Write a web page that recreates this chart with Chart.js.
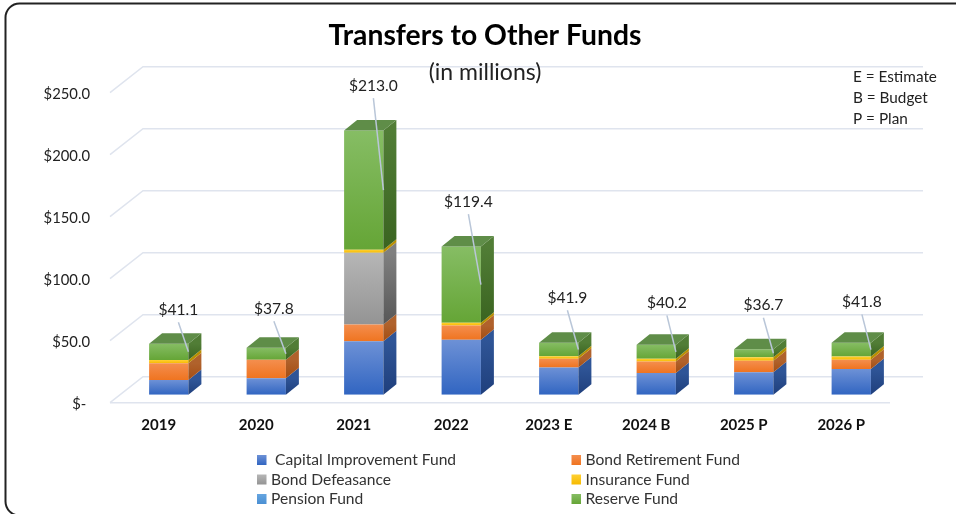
<!DOCTYPE html>
<html>
<head>
<meta charset="utf-8">
<title>Transfers to Other Funds</title>
<script src="https://cdn.jsdelivr.net/npm/chart.js@4/dist/chart.umd.min.js"></script>
<style>
  html, body { margin: 0; padding: 0; background: #fff; overflow: hidden; }
  #wrap { width: 956px; height: 514px; }
</style>
</head>
<body>
<div id="wrap"><canvas id="grafico" width="956" height="514"></canvas></div>
<script>
// Data, in millions
const categories = ["2019", "2020", "2021", "2022", "2023 E", "2024 B", "2025 P", "2026 P"];
const capitalImprovement = [11.8, 13.3, 43.0, 44.3, 22.0, 17.4, 18.2, 20.7];
const bondRetirement = [13.5, 14.8, 13.7, 11.5, 7.0, 9.4, 9.1, 7.5];
const bondDefeasance = [0, 0, 57.7, 0, 0, 0, 0, 0];
const insurance = [2.7, 0, 2.4, 2.2, 2.1, 2.1, 2.9, 2.7];
const pension = [0, 0, 0, 0, 0, 0, 0, 0];
const reserve = [13.1, 9.7, 96.2, 61.4, 10.8, 11.3, 6.5, 10.9];
const totals = [41.1, 37.8, 213.0, 119.4, 41.9, 40.2, 36.7, 41.8];
const yTickLabels = ["$- ", "$50.0", "$100.0", "$150.0", "$200.0", "$250.0"];
const notes = ["E = Estimate", "B = Budget", "P = Plan"];

const FONT = "Lato, Carlito, Calibri, sans-serif";

// front gradient (top, bottom), side gradient (top, bottom)
const fundStyles = [
    { label: "Capital Improvement Fund", values: capitalImprovement, front: ["#6d91d6", "#3165c1"], side: ["#2f5597", "#1f3f7c"], legendText: " Capital Improvement Fund" },
    { label: "Bond Retirement Fund", values: bondRetirement, front: ["#f48e4e", "#ef7420"], side: ["#b0622c", "#a44d12"] },
    { label: "Bond Defeasance", values: bondDefeasance, front: ["#b6b6b6", "#949494"], side: ["#808080", "#575757"] },
    { label: "Insurance Fund", values: insurance, front: ["#ffd033", "#f6ba00"], side: ["#b98f00", "#a98200"] },
    { label: "Pension Fund", values: pension, front: ["#66a5e0", "#4a8fd3"], side: ["#2f6ea8", "#25588a"] },
    { label: "Reserve Fund", values: reserve, front: ["#86bd64", "#65a536"], side: ["#517d36", "#3a6420"] }
];

// how far the 3D box and the back wall sit from the front plane
const wallDepth = { x: 33, y: -26 };
const barShift = { x: 10, y: -8 };
const boxDepth = { x: 13, y: -10.5 };
// manual placement of the total labels, relative to the top right of the bar
const labelLift = [34, 39, 45, 45, 45, 42, 44, 41];
const labelBack = [10, 12, 10, 12.5, 11, 9, 10, 9];

function faceGradient(ctx, top, bottom, colors) {
    const g = ctx.createLinearGradient(0, top, 0, bottom);
    g.addColorStop(0, colors[0]);
    g.addColorStop(1, colors[1]);
    return g;
}

// Scriptable colour: gradient over the height of each stacked segment
function frontColor(c) {
    const style = fundStyles[c.datasetIndex];
    if (c.dataIndex === undefined) return style.front[1];
    const y = c.chart.scales.y;
    let below = 0;
    for (let i = 0; i < c.datasetIndex; i++) below += fundStyles[i].values[c.dataIndex];
    const bottom = y.getPixelForValue(below);
    const top = y.getPixelForValue(below + style.values[c.dataIndex]);
    // scale has no pixels yet on the first pass
    if (!Number.isFinite(top) || !Number.isFinite(bottom)) return style.front[1];
    return faceGradient(c.chart.ctx, top, bottom, style.front);
}

const boxPlugin = {
    id: "box3d",
    // frame and walls go first so the titles stay on top of the lines
    beforeDraw(chart) {
        const ctx = chart.ctx;
        const { left, right } = chart.chartArea;
        const y = chart.scales.y;
        ctx.save();
        ctx.strokeStyle = "#222";
        ctx.lineWidth = 2;
        ctx.beginPath();
        ctx.roundRect(5.5, 3.5, 965, 512, 14);
        ctx.stroke();
        ctx.strokeStyle = "#dfe4ee";
        ctx.lineWidth = 1.5;
        y.ticks.forEach(t => {
            const py = y.getPixelForValue(t.value);
            ctx.beginPath();
            ctx.moveTo(left, py);
            ctx.lineTo(left + wallDepth.x, py + wallDepth.y);
            ctx.lineTo(right + wallDepth.x, py + wallDepth.y);
            ctx.stroke();
        });
        const floor = y.getPixelForValue(0);
        ctx.beginPath();
        ctx.moveTo(left, floor);
        ctx.lineTo(right, floor);
        ctx.stroke();
        ctx.restore();
    },
    beforeDatasetsDraw(chart) {
        // bars sit in the middle of the floor
        chart.ctx.save();
        chart.ctx.translate(barShift.x, barShift.y);
    },
    afterDatasetsDraw(chart) {
        const ctx = chart.ctx;
        const dx = boxDepth.x, dy = boxDepth.y;
        fundStyles.forEach((style, di) => {
            chart.getDatasetMeta(di).data.forEach((bar, i) => {
                if (!style.values[i]) return;
                const xr = bar.x + bar.width / 2;
                ctx.fillStyle = faceGradient(ctx, bar.y, bar.base, style.side);
                ctx.beginPath();
                ctx.moveTo(xr, bar.y);
                ctx.lineTo(xr + dx, bar.y + dy);
                ctx.lineTo(xr + dx, bar.base + dy);
                ctx.lineTo(xr, bar.base);
                ctx.closePath();
                ctx.fill();
            });
        });
        // lid on top of the last series
        const topBars = chart.getDatasetMeta(fundStyles.length - 1).data;
        topBars.forEach(bar => {
            const xl = bar.x - bar.width / 2, xr = bar.x + bar.width / 2;
            ctx.fillStyle = "#5f8d48";
            ctx.beginPath();
            ctx.moveTo(xl, bar.y);
            ctx.lineTo(xl + dx, bar.y + dy);
            ctx.lineTo(xr + dx, bar.y + dy);
            ctx.lineTo(xr, bar.y);
            ctx.closePath();
            ctx.fill();
        });
        // total labels and their leader lines
        ctx.textAlign = "center";
        ctx.textBaseline = "middle";
        ctx.font = "15.6px " + FONT;
        topBars.forEach((bar, i) => {
            const xr = bar.x + bar.width / 2;
            const cx = xr - labelBack[i];
            const cy = bar.y - labelLift[i];
            ctx.strokeStyle = "#b9c6d8";
            ctx.lineWidth = 1.5;
            ctx.beginPath();
            ctx.moveTo(cx, cy + 12.5);
            ctx.lineTo(xr, bar.y + (bar.base - bar.y) / 2);
            ctx.stroke();
            ctx.fillStyle = "#222";
            ctx.fillText("$" + totals[i].toFixed(1), cx, cy);
        });
        ctx.restore();
    },
    afterDraw(chart) {
        const ctx = chart.ctx;
        ctx.save();
        ctx.textBaseline = "middle";
        ctx.textAlign = "left";
        ctx.fillStyle = "#222";
        ctx.font = "15.3px " + FONT;
        notes.forEach((t, i) => ctx.fillText(t, 853, 77 + i * 21));
        // two column legend, row by row
        ctx.font = "15.6px " + FONT;
        fundStyles.forEach((style, i) => {
            const col = i % 2, row = Math.floor(i / 2);
            const mx = col === 0 ? 257 : 571.5;
            const my = 460 + row * 19.5;
            ctx.fillStyle = faceGradient(ctx, my - 5, my + 5, style.front);
            ctx.fillRect(mx, my - 5, 9.5, 10);
            ctx.fillStyle = "#333";
            ctx.fillText(style.legendText || style.label, mx + 14, my);
        });
        ctx.restore();
    }
};

new Chart(document.getElementById("grafico").getContext("2d"), {
    type: "bar",
    data: {
        labels: categories,
        datasets: fundStyles.map(style => ({
            label: style.label,
            data: style.values,
            backgroundColor: frontColor,
            borderWidth: 0,
            categoryPercentage: 1,
            barPercentage: 0.403
        }))
    },
    options: {
        responsive: false,
        animation: false,
        events: [],
        layout: { padding: { left: 30, right: 16, top: 0, bottom: 71.3 } },
        scales: {
            x: {
                stacked: true,
                grid: { display: false, drawTicks: false },
                border: { display: false },
                afterFit(scale) { scale.height = 40; },
                ticks: {
                    color: "#111",
                    padding: 13,
                    maxRotation: 0,
                    font: { family: FONT, size: 15, weight: "bold" }
                }
            },
            y: {
                stacked: true,
                min: 0,
                max: 250,
                grid: { display: false, drawTicks: false },
                border: { display: false },
                afterFit(scale) { scale.width = 80; },
                ticks: {
                    stepSize: 50,
                    color: "#222",
                    padding: 20,
                    labelOffset: 1.5,
                    font: { family: FONT, size: 14.8 },
                    callback: (v) => yTickLabels[v / 50]
                }
            },
            // empty axis, only reserves the room of the back wall on the right
            spacer: {
                position: "right",
                grid: { display: false, drawTicks: false },
                border: { display: false },
                ticks: { display: false },
                afterFit(scale) { scale.width = 50; }
            }
        },
        plugins: {
            legend: { display: false },
            tooltip: { enabled: false },
            title: {
                display: true,
                text: "Transfers to Other Funds",
                color: "#000",
                font: { family: FONT, size: 28.3, weight: "bold" },
                padding: { top: 19, bottom: 0 }
            },
            subtitle: {
                display: true,
                text: "(in millions)",
                color: "#222",
                font: { family: FONT, size: 23, weight: "normal" },
                padding: { top: 6, bottom: 6.1 }
            }
        }
    },
    plugins: [boxPlugin]
});
</script>
</body>
</html>
